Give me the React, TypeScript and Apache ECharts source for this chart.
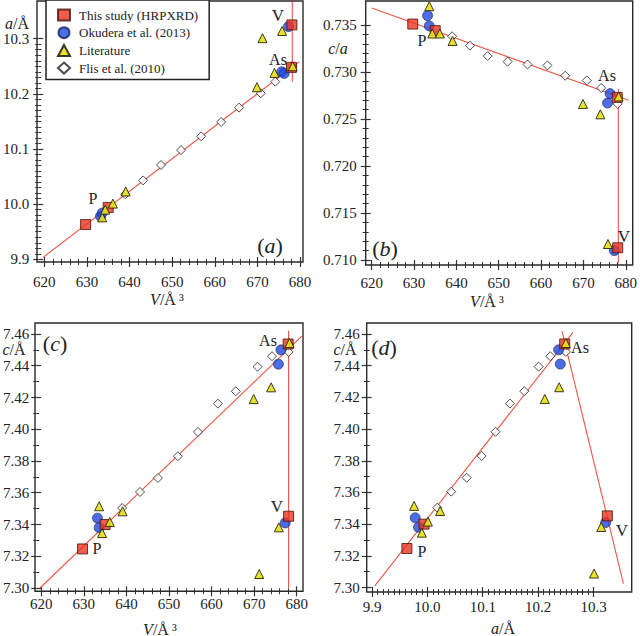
import React, { useEffect, useRef } from "react";
import * as echarts from "echarts";

// ---- Data ----
// This study (HRPXRD): red squares  [P, P', As, V]
const studyV = [629.7, 635.0, 678.0, 678.1];
const studyA = [9.963, 9.994, 10.248, 10.325];
const studyC = [7.3246, 7.34, 7.4537, 7.3452];
const studyCA = [0.7351, 0.7344, 0.7273, 0.7113];

// Okudera et al. (2013): blue circles
const okuV = [633.2, 633.6, 675.7, 676.3, 677.3];
const okuA = [9.978, 9.984, 10.24, 10.237, 10.322];
const okuC = [7.344, 7.338, 7.441, 7.45, 7.341];
const okuCA = [0.736, 0.7349, 0.7267, 0.7277, 0.711];

// Literature: yellow triangles
const litV = [633.6, 634.3, 636.1, 639.1, 669.9, 674.0, 675.8, 671.2, 678.3];
const litA = [9.976, 9.99, 10.001, 10.023, 10.212, 10.238, 10.314, 10.301, 10.25];
const litC = [7.3515, 7.3346, 7.3416, 7.3483, 7.419, 7.4264, 7.3382, 7.3088, 7.4543];
const litCA = [0.737, 0.7341, 0.7341, 0.7333, 0.7266, 0.7255, 0.7117, null, 0.7274];

// Flis et al. (2010): open diamonds
const flisV = [639.0, 643.2, 647.4, 652.1, 656.8, 661.5, 665.7, 670.8, 674.2, 678.1];
const flisA = [10.018, 10.043, 10.071, 10.098, 10.123, 10.149, 10.175, 10.201, 10.222, 10.25];
const flisC = [7.3504, 7.3605, 7.3693, 7.383, 7.3983, 7.4161, 7.4239, 7.4394, 7.446, 7.4487];
const flisCA = [0.7338, 0.7328, 0.7317, 0.7311, 0.7308, 0.7307, 0.7296, 0.7291, 0.7283, 0.7266];

// Trend lines (end points)
const lineA = [[620, 9.9036], [679.8, 10.258]];
const lineAV = [[678.2, 10.222], [678.2, 10.368]];
const lineB = [[620, 0.7368], [680.3, 0.727]];
const lineBV = [[677.9, 0.7282], [677.9, 0.7097]];
const lineC = [[620, 7.3], [681.2, 7.4586]];
const lineCV = [[678.1, 7.462], [678.1, 7.3]];
const lineD1 = [[9.905, 7.301], [10.263, 7.461]];
const lineD2 = [[10.243, 7.462], [10.354, 7.3025]];

const legendNames = ["This study (HRPXRD)", "Okudera et al. (2013)", "Literature", "Flis et al. (2010)"];

const SERIF = "Liberation Serif";
const TXT = "#222";
const LINE_COLOR = "#ef5646";

const groups = [
  { name: legendNames[3], V: flisV, A: flisA, C: flisC, CA: flisCA, symbol: "diamond", size: 9,
    itemStyle: { color: "#ffffff", borderColor: "#222", borderWidth: 1 } },
  { name: legendNames[1], V: okuV, A: okuA, C: okuC, CA: okuCA, symbol: "circle", size: 10,
    itemStyle: { color: "#1f48e0", borderColor: "#1a2458", borderWidth: 0.8 } },
  { name: legendNames[0], V: studyV, A: studyA, C: studyC, CA: studyCA, symbol: "rect", size: 10,
    itemStyle: { color: "#ea3420", borderColor: "#4a1208", borderWidth: 1 } },
  { name: legendNames[2], V: litV, A: litA, C: litC, CA: litCA, symbol: "triangle", size: 9,
    itemStyle: { color: "#e6e01c", borderColor: "#2a2a10", borderWidth: 1, opacity: 0.92 } },
];

const panels = [
  { xl: 43, xr: 300, yt: 38.7, yb: 259.3, x: [620, 680, 10, 5, 0], y: [9.9, 10.3, 0.1, 10, 1], xExt: 2,
    xoff: 2.7, yoff: 6, xm: 12, ym: 9, xs: (g: any) => g.V, ys: (g: any) => g.A,
    lines: [lineA, lineAV], frame: [37, 1, 266, 261] },
  { xl: 371.7, xr: 627.3, yt: 25, yb: 260, x: [620, 680, 10, 5, 0], y: [0.71, 0.735, 0.005, 5, 3], xExt: 2,
    xoff: 5, yoff: 6, xm: 10, ym: 9, xs: (g: any) => g.V, ys: (g: any) => g.CA,
    lines: [lineB, lineBV], frame: [365.7, 1, 267, 264] },
  { xl: 40, xr: 296.7, yt: 334, yb: 588, x: [620, 680, 10, 5, 0], y: [7.3, 7.46, 0.02, 2, 2], xExt: 2,
    xoff: 3.3, yoff: 5, xm: 5, ym: 7, xs: (g: any) => g.V, ys: (g: any) => g.C,
    lines: [lineC, lineCV], frame: [35, 323, 268, 268.3] },
  { xl: 372, xr: 593.5, yt: 334, yb: 587.5, x: [9.9, 10.3, 0.1, 10, 1], y: [7.3, 7.46, 0.02, 2, 2], xExt: 0.08,
    xoff: 4.5, yoff: 5.3, xm: 7, ym: 7, xs: (g: any) => g.A, ys: (g: any) => g.C,
    lines: [lineD1, lineD2], frame: [366.7, 323, 265, 269] },
];

function pairs(xs: number[], ys: (number | null)[]) {
  const out: number[][] = [];
  xs.forEach((x, i) => {
    const y = ys[i];
    if (y !== null && y !== undefined) out.push([x, y]);
  });
  return out;
}

function axisPair(kind: "x" | "y", gi: number, spec: number[], off: number, margin: number) {
  const [min, max, interval, split, dec] = spec;
  const base = {
    gridIndex: gi,
    type: "value",
    min,
    max,
    interval,
    position: kind === "x" ? "bottom" : "left",
    offset: off,
    axisLine: { show: false, onZero: false },
    splitLine: { show: false },
    minorSplitLine: { show: false },
    minorTick: { show: true, splitNumber: split, length: 3, lineStyle: { color: "#333", width: 1 } },
    axisTick: { show: true, length: 5, lineStyle: { color: "#333", width: 1.2 } },
  };
  return [
    {
      ...base,
      axisTick: { ...base.axisTick, inside: false },
      axisLabel: {
        show: true,
        margin,
        fontFamily: SERIF,
        fontSize: 15,
        color: TXT,
        formatter: (v: number) => "{s|" + v.toFixed(dec) + "}",
        rich: { s: { fontFamily: SERIF, fontSize: 15, color: TXT } },
      },
    },
    {
      ...base,
      axisTick: { ...base.axisTick, inside: true },
      minorTick: { ...base.minorTick },
      axisLabel: { show: false },
    },
  ];
}

function text(x: number, y: number, t: string, size: number, rich?: any, align = "center") {
  return {
    type: "text",
    x,
    y,
    z: 100,
    style: {
      text: t,
      fontFamily: SERIF,
      fontSize: size,
      fill: TXT,
      align,
      verticalAlign: "middle",
      rich,
    },
  };
}

const italic = (size: number) => ({ i: { fontStyle: "italic", fontFamily: SERIF, fontSize: size, fill: TXT } });

export default function App() {
  const ref = useRef<HTMLDivElement>(null);
  useEffect(() => {
    if (!ref.current) return;
    const chart = echarts.init(ref.current, undefined, { renderer: "svg" });

    const grid: any[] = [];
    const xAxis: any[] = [];
    const yAxis: any[] = [];
    const series: any[] = [];
    const graphic: any[] = [];

    // main grids + axes
    panels.forEach((p, gi) => {
      grid.push({ left: p.xl, top: p.yt, width: p.xr - p.xl, height: p.yb - p.yt, containLabel: false });
      xAxis.push(...axisPair("x", gi, p.x, p.xoff, p.xm));
      yAxis.push(...axisPair("y", gi, p.y, p.yoff, p.ym));
    });
    // helper grids (same scale, slightly extended to the right) for the trend lines
    panels.forEach((p, gi) => {
      const [xmin, xmax] = p.x;
      const [ymin, ymax] = p.y;
      const w = (p.xr - p.xl) * (xmax + p.xExt - xmin) / (xmax - xmin);
      grid.push({ left: p.xl, top: p.yt, width: w, height: p.yb - p.yt, containLabel: false });
      xAxis.push({ gridIndex: 4 + gi, type: "value", min: xmin, max: xmax + p.xExt, show: false });
      yAxis.push({ gridIndex: 4 + gi, type: "value", min: ymin, max: ymax, show: false });
    });

    panels.forEach((p, gi) => {
      const ax = gi * 2;
      const hx = 8 + gi;
      p.lines.forEach((ln) => {
        series.push({
          type: "line",
          xAxisIndex: hx,
          yAxisIndex: hx,
          data: ln,
          symbol: "none",
          clip: false,
          silent: true,
          z: 1,
          lineStyle: { color: LINE_COLOR, width: 1.1 },
        });
      });
      groups.forEach((g, k) => {
        series.push({
          type: "scatter",
          name: g.name,
          xAxisIndex: ax,
          yAxisIndex: ax,
          data: pairs(p.xs(g), p.ys(g)),
          symbol: g.symbol,
          symbolSize: g.size,
          clip: false,
          z: 2 + k,
          itemStyle: g.itemStyle,
        });
      });
      const f = p.frame;
      graphic.push({
        type: "rect",
        z: 50,
        shape: { x: f[0], y: f[1], width: f[2], height: f[3] },
        style: { fill: "none", stroke: "#2a2a2a", lineWidth: 1.4 },
      });
    });

    const sup = "{i|V}/Å\u2009³";
    // axis names
    graphic.push(text(167, 299, sup, 16, italic(16)));
    graphic.push(text(17, 23, "{i|a}/Å", 16, italic(16)));
    graphic.push(text(487, 301, sup, 16, italic(16)));
    graphic.push(text(338, 48, "{i|c}/{i|a}", 16, italic(16)));
    graphic.push(text(160, 629, sup, 16, italic(16)));
    graphic.push(text(14, 349, "{i|c}/Å", 16, italic(16)));
    graphic.push(text(503, 628, "{i|a}/Å", 16, italic(16)));
    graphic.push(text(345, 349, "{i|c}/Å", 16, italic(16)));
    // panel letters
    graphic.push(text(270, 245, "({i|a})", 22, italic(22)));
    graphic.push(text(385, 248, "({i|b})", 22, italic(22)));
    graphic.push(text(55, 343, "({i|c})", 22, italic(22)));
    graphic.push(text(384, 347, "({i|d})", 22, italic(22)));
    // phase annotations
    graphic.push(text(278, 15, "V", 17));
    graphic.push(text(278, 59, "As", 16));
    graphic.push(text(93, 198, "P", 16));
    graphic.push(text(422, 40, "P", 16));
    graphic.push(text(607, 75, "As", 16));
    graphic.push(text(624, 236, "V", 17));
    graphic.push(text(268, 340, "As", 16));
    graphic.push(text(277, 506, "V", 17));
    graphic.push(text(97, 548, "P", 16));
    graphic.push(text(580, 347, "As", 16));
    graphic.push(text(622, 530, "V", 17));
    graphic.push(text(422, 551, "P", 16));

    chart.setOption({
      animation: false,
      backgroundColor: "#ffffff",
      textStyle: { fontFamily: SERIF, color: TXT },
      grid,
      xAxis,
      yAxis,
      series,
      graphic,
      legend: {
        show: true,
        data: legendNames,
        orient: "vertical",
        left: 46,
        top: 0,
        itemWidth: 12,
        itemHeight: 11,
        itemGap: 4.7,
        padding: [8.5, 11, 5, 11],
        borderColor: "#222",
        borderWidth: 1.5,
        backgroundColor: "#ffffff",
        selectedMode: false,
        z: 60,
        textStyle: { fontFamily: SERIF, fontSize: 13, color: TXT, padding: [0, 0, 0, 4] },
      },
    });
    return () => chart.dispose();
  }, []);
  return <div ref={ref} style={{ position: "absolute", left: 0, top: 0, width: 640, height: 636 }} />;
}
